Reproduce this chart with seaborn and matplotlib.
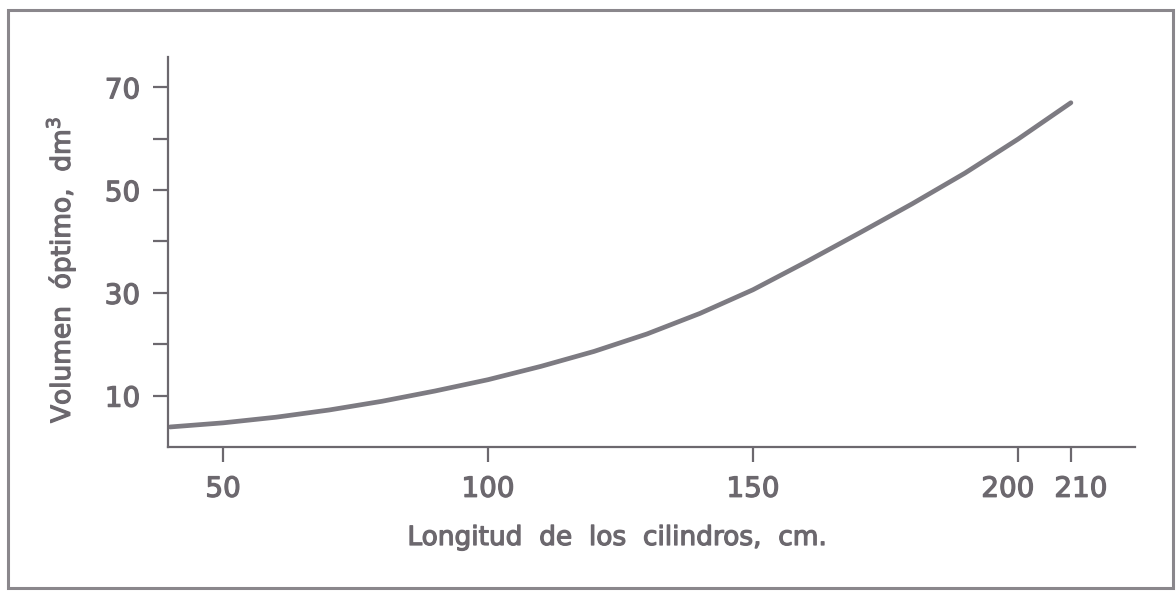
import matplotlib
matplotlib.use("Agg")
import matplotlib.pyplot as plt
import matplotlib.patheffects as pe
import matplotlib.transforms as mtransforms
import seaborn as sns
import pandas as pd
from matplotlib.patches import Rectangle

# Data
longitud = [40, 50, 60, 70, 80, 90, 100, 110, 120, 130, 140, 150, 160, 170, 180, 190, 200, 210]
volumen = [3.9, 4.7, 5.8, 7.2, 8.9, 10.9, 13.1, 15.7, 18.6, 22.0, 26.0, 30.6, 36.0, 41.6, 47.3, 53.3, 59.9, 67.0]
x_ticks = [50, 100, 150, 200, 210]
y_major = [10, 30, 50, 70]
y_minor = [20, 40, 60]

df = pd.DataFrame({"Longitud": longitud, "Volumen": volumen})

sns.set_style("white")
plt.rcParams['font.family'] = ['DejaVu Sans']

ink = "#6c686e"
line_c = "#7d7b82"
thick = [pe.withStroke(linewidth=0.9, foreground=ink)]

fig = plt.figure(figsize=(11.76, 5.92), dpi=100)
fig.patch.set_facecolor("white")

# outer frame
fig.patches.append(Rectangle((8/1176, 4/592), (1173-8)/1176, (582-4)/592,
                             transform=fig.transFigure, fill=False,
                             edgecolor="#8a878c", linewidth=2.2))

ax = fig.add_axes([168/1176, (592-447)/592, (1135-168)/1176, (447-57)/592])
sns.lineplot(data=df, x="Longitud", y="Volumen", ax=ax, color=line_c,
             linewidth=3.4, solid_capstyle="round")

ax.set_xlim(39.6, 222.1)
ax.set_ylim(0, 75.9)
ax.set_xticks(x_ticks)
ax.set_xticklabels([str(v) for v in x_ticks])
ax.set_yticks(y_major)
ax.set_yticklabels([str(v) for v in y_major])
ax.set_yticks(y_minor, minor=True)

for s in ["top", "right"]:
    ax.spines[s].set_visible(False)
for s in ["left", "bottom"]:
    ax.spines[s].set_color(ink)
    ax.spines[s].set_linewidth(1.6)

ax.tick_params(axis="both", which="major", direction="out", length=11, width=1.6,
               color=ink, labelcolor=ink, labelsize=20, pad=9)
ax.tick_params(axis="y", which="minor", direction="out", length=11, width=1.6,
               color=ink, left=True)
ax.tick_params(axis="x", which="major", bottom=True)
ax.tick_params(axis="y", which="major", left=True)
for lab in ax.get_xticklabels() + ax.get_yticklabels():
    lab.set_path_effects(thick)

# nudge the crowded 200 / 210 labels apart as in the reference
xlabels = ax.get_xticklabels()
xlabels[3].set_transform(xlabels[3].get_transform() +
                         mtransforms.ScaledTranslation(-10/100, 0, fig.dpi_scale_trans))
xlabels[4].set_transform(xlabels[4].get_transform() +
                         mtransforms.ScaledTranslation(10/100, 0, fig.dpi_scale_trans))

ax.set_xlabel("Longitud  de  los  cilindros,  cm.", fontsize=19, color=ink,
              path_effects=thick)
ax.set_ylabel("Volumen  óptimo,  dm$^3$", fontsize=19, color=ink,
              path_effects=thick)
ax.xaxis.set_label_coords(0.465, -0.2)
ax.yaxis.set_label_coords(-0.093, 0.454)

fig.savefig("out.png", dpi=100, facecolor="white")
